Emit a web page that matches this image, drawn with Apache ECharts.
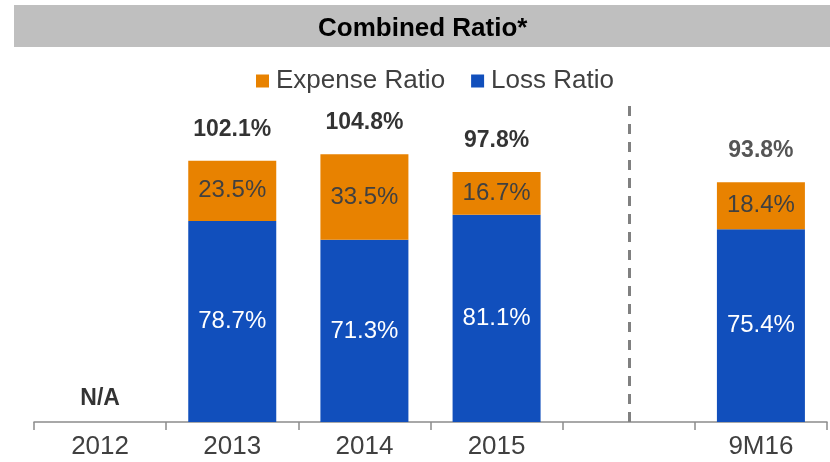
<!DOCTYPE html>
<html>
<head>
<meta charset="utf-8">
<script src="https://cdn.jsdelivr.net/npm/echarts@6/dist/echarts.min.js"></script>
<style>
  html, body { margin: 0; padding: 0; background: #fff; }
  #chart { width: 830px; height: 462px; }
</style>
</head>
<body>
<div id="chart"></div>
<script>
// 综合成本率 Combined Ratio
var categories = ['2012', '2013', '2014', '2015', '', '9M16'];
var lossRatio = ['-', 78.7, 71.3, 81.1, '-', 75.4];
var expenseRatio = ['-', 23.5, 33.5, 16.7, '-', 18.4];
var combinedRatio = [0, 102.1, 104.8, 97.8, '-', 93.8];
var totalLabels = ['N/A', '102.1%', '104.8%', '97.8%', '', '93.8%'];

var font = 'Liberation Sans, Arial, sans-serif';
var myChart = echarts.init(document.getElementById('chart'));

var option = {
  animation: false,
  textStyle: { fontFamily: font },
  graphic: [{
    type: 'rect',
    left: 14,
    top: 5,
    shape: { width: 816, height: 42 },
    style: { fill: '#bfbfbf' },
    z: -1
  }],
  title: {
    text: 'Combined Ratio*',
    left: 313,
    top: 11,
    textStyle: { fontFamily: font, fontSize: 26, fontWeight: 'bold', color: '#000' }
  },
  legend: {
    data: ['Expense Ratio', 'Loss Ratio'],
    top: 63,
    left: 251,
    icon: 'rect',
    itemWidth: 13,
    itemHeight: 13,
    itemGap: 26,
    itemStyle: { borderWidth: 0 },
    textStyle: { fontFamily: font, fontSize: 26, color: '#404040', padding: [0, 0, 0, 2] }
  },
  grid: {
    left: 34,
    right: 3,
    top: 100,
    bottom: 40,
    containLabel: false
  },
  xAxis: {
    type: 'category',
    data: categories,
    axisLine: { lineStyle: { color: '#8c8c8c', width: 1.5 } },
    axisTick: { show: true, length: 8, lineStyle: { color: '#8c8c8c', width: 1.5 } },
    axisLabel: { fontFamily: font, fontSize: 26, color: '#404040', margin: 12 }
  },
  yAxis: {
    type: 'value',
    min: 0,
    max: 126,
    show: false,
    splitLine: { show: false }
  },
  series: [{
    name: 'Loss Ratio',
    type: 'bar',
    stack: 'cr',
    barWidth: 88,
    data: lossRatio,
    itemStyle: { color: '#114fbc' },
    label: {
      show: true,
      position: 'inside',
      color: '#fff',
      fontFamily: font,
      fontSize: 24,
      formatter: function (p) { return p.value.toFixed(1) + '%'; }
    },
    markLine: {
      silent: true,
      symbol: 'none',
      label: { show: false },
      lineStyle: { color: '#808080', width: 3, type: [10, 8] },
      data: [{ xAxis: 4 }]
    }
  }, {
    name: 'Expense Ratio',
    type: 'bar',
    stack: 'cr',
    barWidth: 88,
    data: expenseRatio,
    itemStyle: { color: '#e88200' },
    label: {
      show: true,
      position: 'inside',
      color: '#404040',
      fontFamily: font,
      fontSize: 24,
      formatter: function (p) { return p.value.toFixed(1) + '%'; }
    }
  }, {
    name: 'Total',
    type: 'scatter',
    symbolSize: 0,
    data: combinedRatio,
    z: 5,
    label: {
      show: true,
      position: 'top',
      distance: 20,
      fontFamily: font,
      fontSize: 23,
      fontWeight: 'bold',
      color: '#000',
      formatter: function (p) { return totalLabels[p.dataIndex]; }
    }
  }]
};

option.series[2].data = combinedRatio.map(function (v, i) {
  var item = { value: v };
  if (i === 0) item.label = { distance: 12 };
  if (i === 5) item.label = { color: '#2b2b2b' };
  return item;
});

myChart.setOption(option);
</script>
</body>
</html>
